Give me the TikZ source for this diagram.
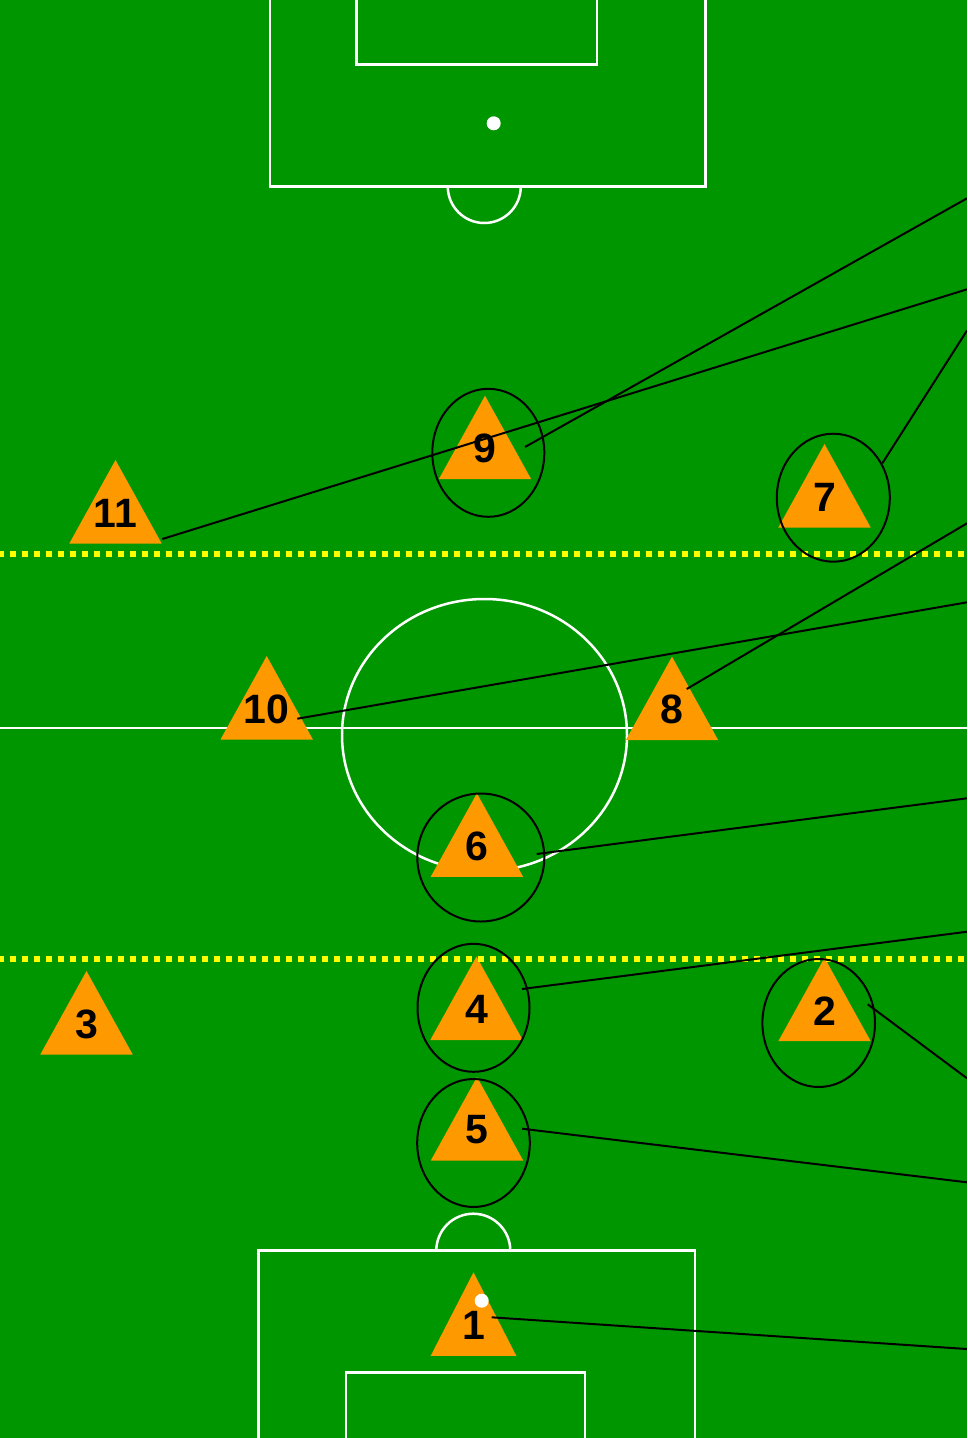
\documentclass[tikz,border=0pt]{standalone}
\usepackage{fontspec}
\setmainfont{Liberation Sans}
\usepackage{tikz}
\definecolor{pitch}{RGB}{0,150,0}
\definecolor{cone}{RGB}{255,153,0}
\definecolor{zone}{RGB}{255,255,0}
\newcommand{\player}[4][46.2]{%
  \fill[cone] (#3) -- ++(-#1,83.5) -- ++(2*#1,0) -- cycle;
  \node[num,yshift=-53pt] (#2) at (#3) {#4};}

\begin{document}
\begin{tikzpicture}[x=1pt,y=-1pt,
  chalk/.style={white,line width=2.5pt},
  zoneline/.style={zone,line width=6pt,dash pattern=on 6pt off 6pt,dash phase=2.3pt},
  ring/.style={black,line width=2pt},
  pass/.style={black,line width=2pt},
  num/.style={font=\fontsize{41}{41}\selectfont\bfseries,inner sep=0pt}]
  \useasboundingbox (0,0) rectangle (967,1438);
  \fill[pitch] (0,0) rectangle (967,1438);
  \clip (0,0) rectangle (967,1438);
  % markings
  \draw[chalk] (270,0) -- (270,186.5) -- (705.7,186.5) -- (705.7,0);
  \draw[chalk] (356.7,0) -- (356.7,64.7) -- (597,64.7) -- (597,0);
  \fill[white] (493.7,123.3) circle (7);
  \draw[chalk] (447.8,186.5) arc[start angle=180,end angle=360,radius=36.5pt];
  \draw[chalk] (0,728) -- (967,728);
  \draw[chalk] (484.5,735) ellipse[x radius=142.5,y radius=136];
  \draw[chalk] (258.7,1438) -- (258.7,1250.7) -- (695,1250.7) -- (695,1438);
  \draw[chalk] (346,1438) -- (346,1372.7) -- (585,1372.7) -- (585,1438);
  \draw[chalk] (436.3,1250.7) arc[start angle=180,end angle=0,radius=37pt];
  % players
  \player{p11}{115.5,460}{11}
  \player{p9}{485,395.7}{9}
  \player{p7}{824.5,444}{7}
  \player{p10}{266.7,656}{10}
  \player{p8}{672,656.7}{8}
  \player{p6}{476.9,793.3}{6}
  \player{p4}{476.5,956.5}{4}
  \player{p3}{86.5,971}{3}
  \player{p2}{824.5,957.7}{2}
  \player{p5}{477,1077}{5}
  \player[42.8]{p1}{473.5,1272.3}{1}
  \fill[white] (481.7,1300.7) circle (7);
  \draw[zoneline] (0,553.7) -- (967,553.7);
  \draw[zoneline] (0,959) -- (967,959);
  % marked players
  \draw[ring] (488.3,452.8) ellipse[x radius=56,y radius=64];
  \draw[ring] (833.3,497.7) ellipse[x radius=56.5,y radius=64];
  \draw[ring] (480.8,857.5) ellipse[x radius=63.5,y radius=64];
  \draw[ring] (473.5,1007.8) ellipse[x radius=56,y radius=64];
  \draw[ring] (818.7,1023) ellipse[x radius=56.3,y radius=64];
  \draw[ring] (473.5,1143) ellipse[x radius=56.3,y radius=64];
  % lines to the right edge
  \coordinate (s9) at (525,447);      \coordinate (e9) at (967,198.3);
  \coordinate (s11) at (162.3,539);   \coordinate (e11) at (967,289.3);
  \coordinate (s7) at (882.3,463.3);  \coordinate (e7) at (967,330.5);
  \coordinate (s8) at (686.7,689);    \coordinate (e8) at (967,523.3);
  \coordinate (s10) at (297.3,718.7); \coordinate (e10) at (967,602.3);
  \coordinate (s6) at (536.7,854);    \coordinate (e6) at (967,798.3);
  \coordinate (s4) at (522,989);      \coordinate (e4) at (967,931.7);
  \coordinate (s2) at (867.7,1004.3); \coordinate (e2) at (967,1078.3);
  \coordinate (s5) at (522,1128.7);   \coordinate (e5) at (967,1182.3);
  \coordinate (s1) at (491.7,1317.3); \coordinate (e1) at (967,1349);
  \draw[pass] (s9) -- (e9);
  \draw[pass] (s11) -- (e11);
  \draw[pass] (s7) -- (e7);
  \draw[pass] (s8) -- (e8);
  \draw[pass] (s10) -- (e10);
  \draw[pass] (s6) -- (e6);
  \draw[pass] (s4) -- (e4);
  \draw[pass] (s2) -- (e2);
  \draw[pass] (s5) -- (e5);
  \draw[pass] (s1) -- (e1);
\end{tikzpicture}
\end{document}
